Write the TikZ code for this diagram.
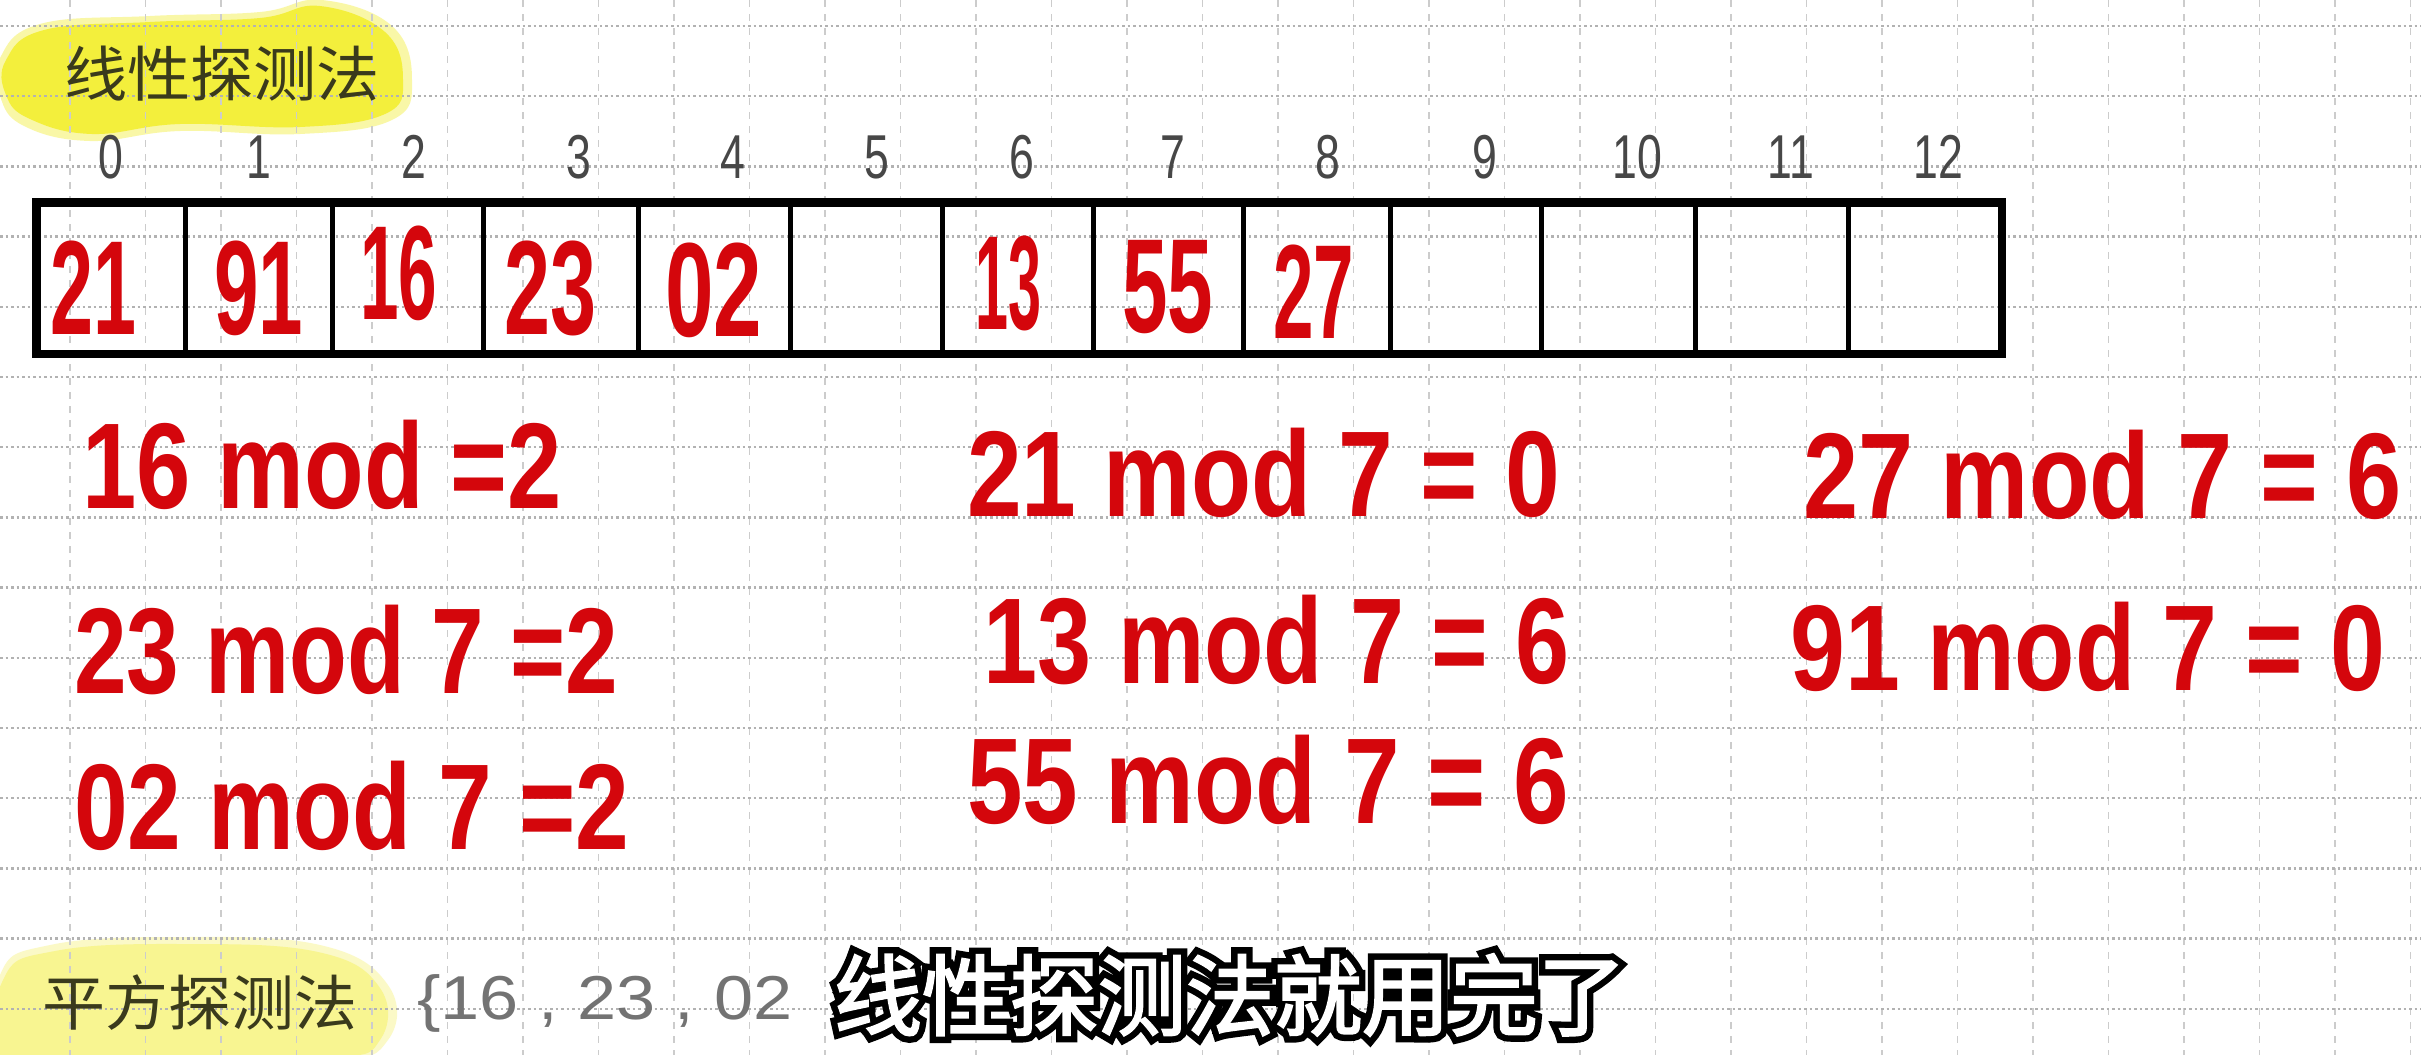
\documentclass[tikz,border=0pt]{standalone}
\usepackage{fontspec}
\setmainfont{Liberation Sans}
\newfontfamily\cjk{Noto Sans CJK SC}
\newfontfamily\cjkb[FakeBold=2.5]{Noto Sans CJK SC}
\newfontfamily\cjkout[FakeBold=17]{Noto Sans CJK SC}
\usetikzlibrary{calc}
\definecolor{hred}{RGB}{212,6,12}
\definecolor{hlyellow}{RGB}{243,239,60}
\definecolor{hlpale}{RGB}{248,245,145}
\definecolor{olive}{RGB}{58,58,28}
\newcommand\fitw[2]{\resizebox{#1}{\height}{#2}}
\tikzset{
  vgrid/.style={draw=black!20, line width=1.5pt, dash pattern=on 7pt off 7pt},
  hgrid/.style={draw=black!30, line width=2.5pt, dash pattern=on 2.5pt off 3pt},
  cellbox/.style={draw=black, line width=5pt, inner sep=0pt, minimum height=148pt},
  cellval/.style={inner sep=0pt, text=hred, font=\fontsize{134}{140}\selectfont\bfseries},
  idxnum/.style={inner sep=0pt, text=black!72, font=\fontsize{62}{70}\selectfont},
  eqn/.style={anchor=west, inner sep=0pt, text=hred, font=\fontsize{122}{130}\selectfont\bfseries},
  hltext/.style={inner sep=0pt, text=olive, font=\cjk\fontsize{60}{66}\selectfont},
  subtext/.style={inner sep=0pt, text=white, font=\cjkb\fontsize{88}{96}\selectfont},
  subline/.style={inner sep=0pt, text=black, font=\cjkout\fontsize{88}{96}\selectfont},
}
\begin{document}
\begin{tikzpicture}[x=1pt,y=-1pt]
\useasboundingbox (0,0) rectangle (2421,1055);
\fill[white] (0,0) rectangle (2421,1055);
% highlights
\fill[hlyellow, opacity=0.45] plot[smooth cycle, tension=0.7] coordinates {(0,58) (40,24) (150,16) (260,12) (322,0) (392,26) (412,80) (392,120) (300,134) (180,131) (90,141) (24,126) (0,96)};
\fill[hlyellow] plot[smooth cycle, tension=0.7] coordinates {(6,60) (44,30) (150,22) (260,18) (320,6) (385,32) (403,80) (385,114) (300,127) (180,124) (92,134) (30,119) (6,95)};
\fill[hlpale, opacity=0.5] plot[smooth cycle, tension=0.7] coordinates {(0,975) (50,945) (180,937) (320,945) (388,985) (388,1040) (330,1062) (150,1062) (0,1062)};
\fill[hlpale] plot[smooth cycle, tension=0.7] coordinates {(4,978) (55,951) (180,944) (318,952) (380,988) (380,1040) (330,1058) (150,1058) (4,1058)};
% grid
\foreach \k in {0,...,31} \draw[vgrid] ({70+75.5*\k},0) -- ({70+75.5*\k},1055);
\foreach \k in {0,...,14} \draw[hgrid] (0,{26+70.2*\k}) -- (2421,{26+70.2*\k});
% titles
\node[hltext] (t1) at (222,74) {\fitw{316pt}{线性探测法}};
\node[hltext] (t2) at (200,1003) {\fitw{315pt}{平方探测法}};
\node[anchor=west, inner sep=0pt, text=black!55, font=\fontsize{62}{70}\selectfont] (set) at (417,1003) {\fitw{375pt}{\{16 , 23 , 02}};
% index numbers
\foreach \i/\x in {0/111,1/259,2/414,3/579,4/733,5/877,6/1022,7/1173,8/1328,9/1485,10/1637,11/1791,12/1938}
  \node[idxnum] (n\i) at (\x,157) {\scalebox{0.72}[1]{\i}};
% table cells
\foreach \i/\a/\b in {0/38/185,1/185/332,2/332/483,3/483/638,4/638/790,5/790/942,6/942/1093,7/1093/1243,8/1243/1390,9/1390/1541,10/1541/1695,11/1695/1848,12/1848/2000}
  \node[cellbox, minimum width={\b-\a}] (c\i) at ({(\a+\b)/2},278) {};
\draw[line width=7pt] (c0.north west) rectangle (c12.south east);
% cell values
\node[cellval] (v0) at ($(c0.center)+(-18,10)$) {\fitw{86pt}{21}};
\node[cellval] (v1) at ($(c1.center)+(0,10)$) {\fitw{89pt}{91}};
\node[cellval] (v2) at ($(c2.center)+(-9,-5)$) {\fitw{77pt}{16}};
\node[cellval] (v3) at ($(c3.center)+(-10,10)$) {\fitw{92pt}{23}};
\node[cellval] (v4) at ($(c4.center)+(0,12)$) {\fitw{97pt}{02}};
\node[cellval] (v6) at ($(c6.center)+(-9,5)$) {\fitw{66pt}{13}};
\node[cellval] (v7) at ($(c7.center)+(0,9)$) {\fitw{91pt}{55}};
\node[cellval] (v8) at ($(c8.center)+(-3,14)$) {\fitw{81pt}{27}};
% equations
\node[eqn] (e1) at (82,465) {\fitw{480pt}{16 mod =2}};
\node[eqn] (e2) at (74,650) {\fitw{544pt}{23 mod 7 =2}};
\node[eqn] (e3) at (74,806) {\fitw{555pt}{02 mod 7 =2}};
\node[eqn] (e4) at (967,473) {\fitw{593pt}{21 mod 7 = 0}};
\node[eqn] (e5) at (983,640) {\fitw{586pt}{13 mod 7 = 6}};
\node[eqn] (e6) at (967,780) {\fitw{602pt}{55 mod 7 = 6}};
\node[eqn] (e7) at (1803,475) {\fitw{598pt}{27 mod 7 = 6}};
\node[eqn] (e8) at (1790,647) {\fitw{595pt}{91 mod 7 = 0}};
% subtitle with outline
\node[subline] (subo) at (1230,995) {线性探测法就用完了};
\node[subtext] (sub) at (subo.center) {线性探测法就用完了};
\end{tikzpicture}
\end{document}
